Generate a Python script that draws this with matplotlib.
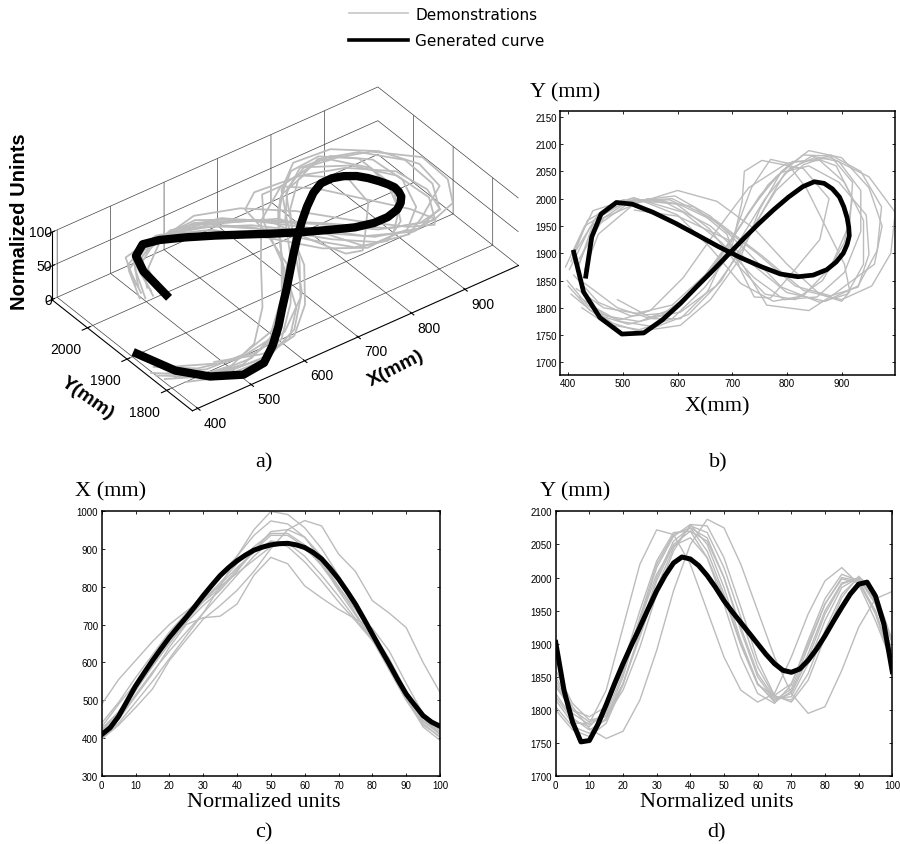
import numpy as np
import matplotlib.pyplot as plt
from matplotlib.transforms import ScaledTranslation

# normalized time axis
t_gen = np.arange(0, 100.1, 2.5)
t_demo = np.arange(0, 101, 5)

# generated curve (read off panels c and d)
x_gen = [410, 428, 458, 498, 538, 572, 605, 636, 666, 693, 719, 747, 776, 803,
         829, 850, 868, 883, 896, 904, 910, 913, 914, 910, 903, 890, 873, 848,
         820, 788, 754, 715, 675, 635, 596, 555, 517, 488, 460, 443, 432]
y_gen = [1902, 1829, 1782, 1752, 1754, 1778, 1808, 1840, 1870, 1898, 1925, 1953,
         1980, 2003, 2022, 2031, 2028, 2018, 2003, 1985, 1965, 1948, 1932, 1916,
         1900, 1884, 1870, 1860, 1857, 1862, 1875, 1892, 1912, 1934, 1955, 1975,
         1990, 1993, 1972, 1930, 1858]

# demonstrations, X(t) and Y(t) sampled every 5 units
demo_x = [
    [490, 555, 605, 655, 700, 735, 770, 800, 835, 870, 905, 915, 900, 860, 800, 740, 672, 600, 520, 455, 430],
    [400, 440, 495, 550, 610, 670, 730, 800, 880, 950, 998, 990, 955, 900, 830, 755, 670, 590, 505, 430, 395],
    [398, 435, 481, 530, 605, 660, 714, 750, 790, 840, 900, 950, 974, 960, 886, 840, 763, 730, 692, 600, 521],
    [405, 450, 510, 570, 640, 700, 718, 722, 754, 830, 877, 860, 802, 770, 740, 715, 690, 630, 545, 465, 420],
    [440, 495, 560, 620, 680, 730, 780, 830, 880, 935, 973, 965, 930, 870, 800, 730, 660, 580, 500, 435, 405],
    [415, 465, 525, 590, 650, 705, 750, 790, 840, 895, 945, 950, 930, 880, 815, 745, 665, 585, 505, 440, 402],
    [430, 490, 545, 605, 670, 720, 760, 795, 845, 895, 935, 935, 905, 855, 795, 740, 680, 610, 525, 455, 411],
    [420, 470, 530, 595, 660, 715, 765, 810, 860, 905, 940, 940, 910, 860, 790, 725, 660, 595, 515, 445, 415],
    [410, 455, 515, 575, 630, 680, 730, 780, 830, 880, 920, 915, 880, 830, 775, 715, 660, 600, 520, 445, 410],
    [425, 470, 530, 590, 650, 710, 760, 805, 850, 890, 920, 905, 865, 815, 760, 710, 658, 598, 515, 448, 420],
]
demo_y = [
    [1815, 1780, 1780, 1830, 1925, 2020, 2072, 2065, 2020, 1950, 1880, 1830, 1812, 1825, 1880, 1945, 1995, 2015, 1990, 1935, 1870],
    [1840, 1795, 1778, 1795, 1855, 1940, 2020, 2065, 2075, 2040, 1975, 1900, 1840, 1815, 1832, 1895, 1960, 2000, 1995, 1950, 1875],
    [1850, 1805, 1772, 1757, 1768, 1815, 1890, 1980, 2050, 2088, 2075, 2020, 1950, 1880, 1825, 1795, 1805, 1860, 1925, 1968, 1979],
    [1825, 1788, 1770, 1785, 1840, 1915, 1995, 2050, 2070, 2055, 2000, 1925, 1855, 1818, 1820, 1870, 1935, 1985, 2000, 1965, 1890],
    [1805, 1775, 1765, 1788, 1850, 1935, 2015, 2062, 2080, 2050, 1985, 1905, 1840, 1812, 1828, 1885, 1950, 1992, 1998, 1960, 1885],
    [1835, 1800, 1790, 1805, 1860, 1935, 2005, 2048, 2060, 2030, 1970, 1898, 1838, 1822, 1840, 1900, 1960, 1998, 1992, 1948, 1870],
    [1845, 1800, 1782, 1792, 1840, 1910, 1985, 2045, 2078, 2068, 2015, 1940, 1865, 1820, 1815, 1855, 1920, 1975, 2000, 1972, 1900],
    [1820, 1785, 1775, 1800, 1868, 1950, 2025, 2068, 2070, 2030, 1960, 1880, 1825, 1810, 1838, 1905, 1968, 2005, 1995, 1945, 1868],
    [1860, 1810, 1785, 1790, 1830, 1895, 1975, 2040, 2080, 2078, 2030, 1955, 1875, 1822, 1812, 1845, 1910, 1970, 2002, 1978, 1905],
    [1800, 1770, 1760, 1780, 1838, 1918, 2000, 2055, 2075, 2060, 2000, 1920, 1850, 1815, 1825, 1878, 1945, 1990, 2000, 1962, 1880],
]

GRAY = '#bcbcbc'
W, H = 900, 845
serif = ['Liberation Serif', 'DejaVu Serif']
sans = ['Liberation Sans', 'DejaVu Sans']

fig = plt.figure(figsize=(W / 100, H / 100), dpi=100)


def rect(l, t, r, b):
    return [l / W, 1 - b / H, (r - l) / W, (b - t) / H]


def px(x, y):
    return x / W, 1 - y / H


def style2d(ax):
    for s in ax.spines.values():
        s.set_linewidth(1.1)
    ax.tick_params(direction='in', length=2.5, width=0.6, top=True, right=True,
                   labelsize=7, pad=2.5)
    for lab in ax.get_xticklabels() + ax.get_yticklabels():
        lab.set_family(sans)


# ---- a) 3D view
ax3 = fig.add_axes(rect(0, 65, 560, 445), projection='3d')
ax3.set_proj_type('ortho')
ax3.view_init(elev=36.4, azim=-126.9)
ax3.set_box_aspect((404, 232, 83), zoom=1.22)
ax3.computed_zorder = False
for xs, ys in zip(demo_x, demo_y):
    ax3.plot(xs, ys, t_demo, color=GRAY, lw=1.3, zorder=2)
ax3.plot(x_gen, y_gen, t_gen, color='k', lw=6, zorder=3)
ax3.set_xlim(390, 1000)
ax3.set_ylim(1735, 2090)
ax3.set_zlim(0, 100)
ax3.set_xticks(range(400, 901, 100))
ax3.set_yticks([1800, 1900, 2000])
ax3.set_zticks([0, 50, 100])
for axis in (ax3.xaxis, ax3.yaxis, ax3.zaxis):
    axis.set_pane_color((1, 1, 1, 0))
    axis.pane.set_edgecolor('#333333')
    axis.pane.set_linewidth(0.6)
    axis._axinfo['grid'].update(color='#444444', linewidth=0.5)
    axis.line.set_linewidth(0.8)
ax3.tick_params(labelsize=10)
ax3.xaxis.set_tick_params(pad=-2)
ax3.yaxis.set_tick_params(pad=1.5)
ax3.zaxis.set_tick_params(pad=-8)
for lab in ax3.get_xticklabels():
    lab.set_family(sans)
    lab.set_ha('left')
for lab in ax3.get_yticklabels():
    lab.set_family(sans)
zshift = ScaledTranslation(-7 / 72, 0, fig.dpi_scale_trans)
for lab in ax3.get_zticklabels():
    lab.set_family(sans)
    lab.set_ha('right')
    lab.set_va('center')
    lab.set_transform(ax3.transData + zshift)

fig.text(*px(20, 222), 'Normalized Unints', rotation=90, ha='center', va='center',
         fontsize=14.5, fontweight='bold', family=sans)
fig.text(*px(87, 398), 'Y(mm)', rotation=-35, ha='center', va='center',
         fontsize=14, fontweight='bold', family=sans)
fig.text(*px(396, 369), 'X(mm)', rotation=27, ha='center', va='center',
         fontsize=14, fontweight='bold', family=sans)
fig.text(*px(264, 463), 'a)', ha='center', va='center', fontsize=16, family=serif)

# ---- b) X-Y plane
axb = fig.add_axes(rect(560.3, 112.3, 895, 376))
for xs, ys in zip(demo_x, demo_y):
    axb.plot(xs, ys, color=GRAY, lw=1.0)
axb.plot(x_gen, y_gen, color='k', lw=3.4)
axb.set_xlim(385.4, 997.6)
axb.set_ylim(1677, 2160)
axb.set_xticks(range(400, 901, 100))
axb.set_yticks(range(1700, 2151, 50))
style2d(axb)
fig.text(*px(530, 93), 'Y (mm)', ha='left', va='center', fontsize=16, family=serif)
fig.text(*px(717, 407), 'X(mm)', ha='center', va='center', fontsize=16, family=serif)
fig.text(*px(718, 463), 'b)', ha='center', va='center', fontsize=16, family=serif)

# ---- c) X over time
axc = fig.add_axes(rect(101.7, 511.7, 440, 777.3))
for xs in demo_x:
    axc.plot(t_demo, xs, color=GRAY, lw=1.0)
axc.plot(t_gen, x_gen, color='k', lw=3.6)
axc.set_xlim(0, 100)
axc.set_ylim(300, 1000)
axc.set_xticks(range(0, 101, 10))
axc.set_yticks(range(300, 1001, 100))
style2d(axc)
fig.text(*px(75, 492), 'X (mm)', ha='left', va='center', fontsize=16, family=serif)
fig.text(*px(264, 803), 'Normalized units', ha='center', va='center', fontsize=16, family=serif)
fig.text(*px(264, 833), 'c)', ha='center', va='center', fontsize=16, family=serif)

# ---- d) Y over time
axd = fig.add_axes(rect(555.7, 512.3, 892.3, 777.3))
for ys in demo_y:
    axd.plot(t_demo, ys, color=GRAY, lw=1.0)
axd.plot(t_gen, y_gen, color='k', lw=3.6)
axd.set_xlim(0, 100)
axd.set_ylim(1700, 2100)
axd.set_xticks(range(0, 101, 10))
axd.set_yticks(range(1700, 2101, 50))
style2d(axd)
fig.text(*px(540, 492), 'Y (mm)', ha='left', va='center', fontsize=16, family=serif)
fig.text(*px(717, 803), 'Normalized units', ha='center', va='center', fontsize=16, family=serif)
fig.text(*px(717, 833), 'd)', ha='center', va='center', fontsize=16, family=serif)

# ---- legend
h_demo = plt.Line2D([], [], color='#cccccc', lw=1.3)
h_gen = plt.Line2D([], [], color='k', lw=2.6)
fig.legend([h_demo, h_gen], ['Demonstrations', 'Generated curve'], loc='upper left',
           bbox_to_anchor=px(335, -6), frameon=False, handlelength=3.9,
           handletextpad=0.45, labelspacing=0.75,
           prop={'family': ['DejaVu Sans'], 'size': 11})

fig.savefig('out.png', dpi=100)
